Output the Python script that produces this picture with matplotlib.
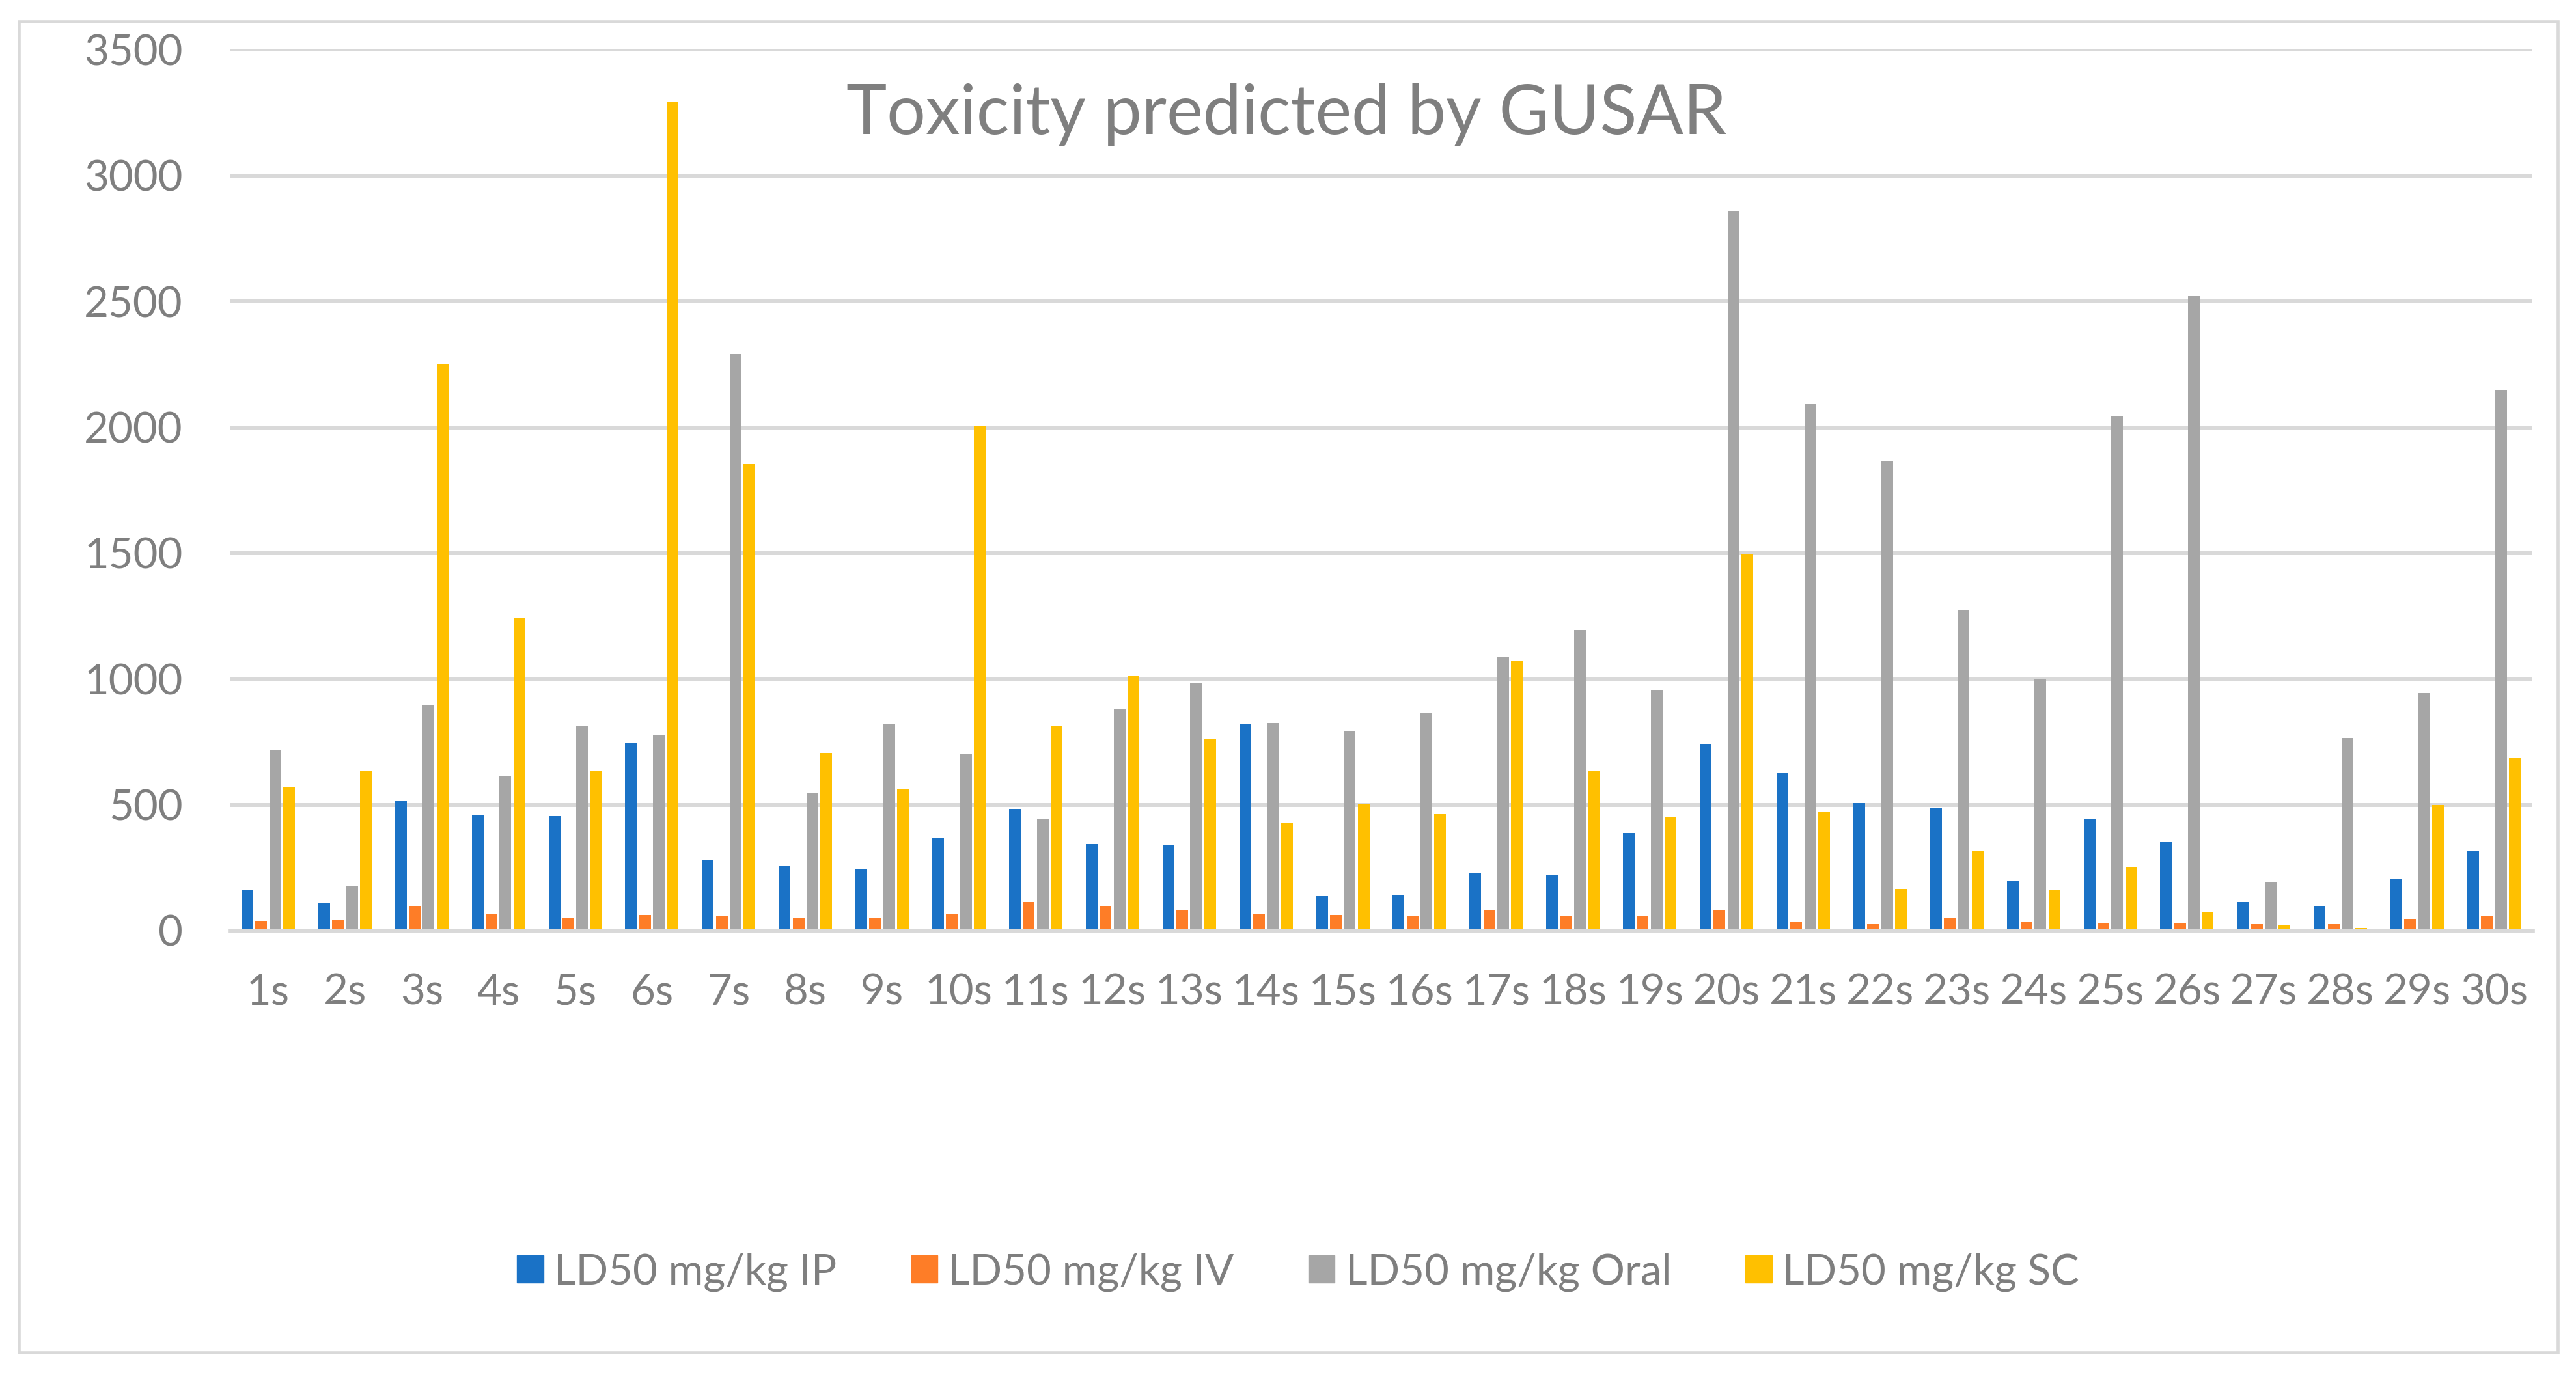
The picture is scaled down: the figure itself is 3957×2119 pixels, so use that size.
import matplotlib
matplotlib.use("Agg")
import matplotlib.pyplot as plt
import matplotlib.patches as mpatches
import numpy as np

plt.rcParams['font.family'] = ['Lato', 'DejaVu Sans']

categories = [f"{i}s" for i in range(1, 31)]
series_names = ["LD50 mg/kg IP", "LD50 mg/kg IV", "LD50 mg/kg Oral", "LD50 mg/kg SC"]
ip = [163, 109, 515, 458, 455, 747, 280, 257, 243, 371, 483, 344, 339, 822, 136,
      139, 228, 220, 389, 740, 626, 507, 490, 200, 443, 351, 114, 97, 205, 317]
iv = [40, 42, 99, 64, 50, 62, 57, 52, 50, 67, 114, 99, 79, 67, 62,
      57, 79, 59, 57, 79, 35, 25, 52, 37, 30, 30, 25, 27, 47, 59]
oral = [720, 178, 896, 614, 812, 775, 2292, 549, 822, 703, 443, 881, 983, 824, 794,
        864, 1087, 1195, 953, 2859, 2091, 1864, 1275, 1000, 2044, 2520, 191, 765, 943, 2148]
sc = [572, 634, 2250, 1245, 634, 3292, 1854, 705, 564, 2007, 814, 1012, 762, 428, 505,
      463, 1072, 634, 453, 1497, 470, 166, 319, 163, 252, 72, 20, 10, 500, 686]
colors = ["#1A72C6", "#FE7D27", "#A6A6A6", "#FFC000"]
yticks = [0, 500, 1000, 1500, 2000, 2500, 3000, 3500]

W, H = 3957, 2119
fig = plt.figure(figsize=(W / 100, H / 100), dpi=100)
fig.patch.set_facecolor("white")

left, right, top, bottom = 353, 3890, 76.5, 1430
ax = fig.add_axes([left / W, 1 - bottom / H, (right - left) / W, (bottom - top) / H])

x = np.arange(len(categories))
step = 0.1807
bw = 0.1527
for k, (vals, c, name) in enumerate(zip([ip, iv, oral, sc], colors, series_names)):
    ax.bar(x + (k - 1.5) * step, vals, width=bw, color=c, label=name, zorder=3)

ax.set_xlim(-0.5, len(categories) - 0.5)
ax.set_ylim(0, 3500)
ax.set_yticks(yticks)
ax.set_yticklabels([str(v) for v in yticks])
ax.set_xticks(x)
ax.set_xticklabels(categories)

grid_c = "#D9D9D9"
ax.set_axisbelow(True)
ax.yaxis.grid(True, color=grid_c, linewidth=4.3)
for s in ["left", "right", "top"]:
    ax.spines[s].set_visible(False)
ax.spines["bottom"].set_color(grid_c)
ax.spines["bottom"].set_linewidth(4.8)
ax.spines["bottom"].set_zorder(4)

txt_c = "#7F7F7F"
ax.tick_params(axis="both", length=0, labelcolor=txt_c, labelsize=47)
ax.tick_params(axis="y", pad=52)
ax.tick_params(axis="x", pad=47)

fig.text(1976 / W, 1 - 206 / H, "Toxicity predicted by GUSAR", ha="center",
         va="baseline", fontsize=76, color=txt_c)

handles = [mpatches.Patch(color=c, label=n) for c, n in zip(colors, series_names)]
fig.legend(handles=handles, loc="center", bbox_to_anchor=(1994 / W, 1 - 1955 / H),
           ncol=4, frameon=False, fontsize=47, labelcolor=txt_c,
           handlelength=0.62, handleheight=0.62, handletextpad=0.25,
           columnspacing=1.75)

border = mpatches.Rectangle((29 / W, 1 - 2078 / H), (3929 - 29) / W, (2078 - 33) / H,
                            transform=fig.transFigure, fill=False,
                            edgecolor=grid_c, linewidth=3.3)
fig.patches.append(border)

fig.savefig("out.png", dpi=100, facecolor="white")
